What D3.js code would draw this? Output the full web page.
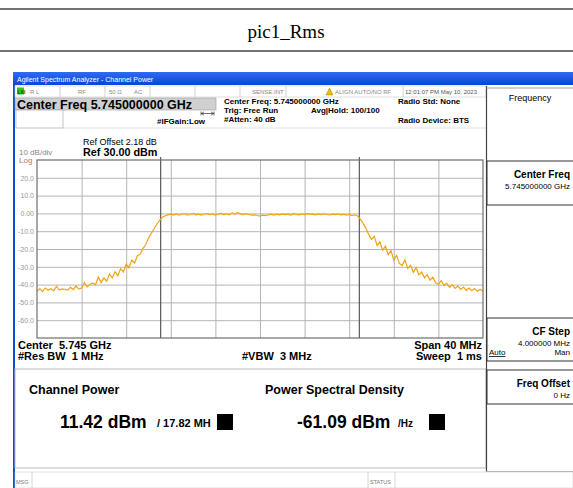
<!DOCTYPE html>
<html>
<head>
<meta charset="utf-8">
<script src="https://cdn.jsdelivr.net/npm/d3@7"></script>
<style>
  body { margin: 0; background: #fff; }
  svg { display: block; font-family: "Liberation Sans", Arial, sans-serif; }
  svg text { white-space: pre; }
</style>
</head>
<body>
<div id="chart"></div>
<script>
// ---- data ----
var spanMHz = [-20, 20];          // center 5.745 GHz, span 40 MHz
var refLevels = [30, -70];        // Ref 30.00 dBm, 10 dB/div
var yTickValues = [20, 10, 0, -10, -20, -30, -40, -50, -60];
var yTickLabels = ["20.0", "10.0", "0.00", "-10.0", "-20.0", "-30.0", "-40.0", "-50.0", "-60.0"];
var channelEdgesMHz = [-8.91, 8.91]; // 17.82 MHz integration bw

// trace, one point every 0.25 MHz from -20 MHz
var traceLevels = [
  -43.6, -42.4, -43.8, -41.9, -43.2, -42.3, -43.5, -40.9, -43.0, -42.4,
  -42.6, -43.1, -41.5, -42.8, -40.8, -42.5, -41.9, -38.9, -41.3, -39.8,
  -39.2, -40.1, -35.8, -38.9, -36.2, -38.1, -33.9, -36.3, -32.8, -35.1,
  -31.0, -32.9, -28.6, -30.5, -26.2, -27.9, -23.8, -22.9, -19.8, -17.6,
  -13.8, -11.2, -8.6, -6.1, -3.9, -2.2, -1.3, -0.8, -0.4, -0.9,
  -0.3, -1.0, -0.5, -0.1, -0.9, -0.6, 0.0, -0.8, -0.4, -1.0,
  -0.5, -0.1, -0.7, -0.3, -0.9, -0.4, 0.0, -0.7, -0.3, -0.8,
  0.3, -0.5, 0.5, -0.3, -0.7, -0.2, -0.6, -1.0, -0.8, -1.2,
  -1.5, -1.0, -1.3, -0.8, -0.6, -1.0, -0.5, -0.8, -0.3, -0.7,
  -0.4, -0.9, -0.2, -0.6, -0.8, -0.3, -0.7, -0.1, -0.5, -0.4,
  -0.8, -0.3, -0.7, -0.2, -0.6, -0.9, -0.4, -0.7, -0.3, -0.8,
  -0.5, -1.0, -0.6, -1.3, -0.8, -1.5, -3.2, -5.6, -8.4, -11.9,
  -14.6, -12.8, -18.0, -16.0, -20.8, -18.4, -23.2, -20.9, -26.3, -23.6,
  -28.1, -29.3, -26.1, -30.9, -29.2, -33.1, -30.5, -34.6, -33.0, -36.2,
  -34.4, -37.5, -35.8, -39.0, -39.8, -37.8, -40.5, -39.3, -41.6, -40.2,
  -42.1, -40.8, -42.7, -41.4, -43.2, -41.9, -43.4, -42.2, -43.7, -42.6, -43.8
];
var traceStepMHz = 0.25;

var svgWidth = 573;
var svgHeight = 488;

var plot = { left: 37, right: 483, top: 160, bottom: 338 };

var svg = d3.select("#chart")
  .append("svg")
  .attr("width", svgWidth)
  .attr("height", svgHeight);

// page title between two rules
svg.append("line").attr("x1", 0).attr("x2", svgWidth).attr("y1", 9).attr("y2", 9)
  .attr("stroke", "#444").attr("stroke-width", 1.5);
svg.append("line").attr("x1", 0).attr("x2", svgWidth).attr("y1", 51).attr("y2", 51)
  .attr("stroke", "#444").attr("stroke-width", 1.5);
svg.append("text")
  .attr("x", 286).attr("y", 38)
  .attr("text-anchor", "middle")
  .attr("font-family", "Liberation Serif, Times New Roman, serif")
  .attr("font-size", "19px")
  .text("pic1_Rms");

// ---- analyzer window ----
var grad = svg.append("defs").append("linearGradient")
  .attr("id", "titlebar").attr("x1", 0).attr("x2", 0).attr("y1", 0).attr("y2", 1);
grad.append("stop").attr("offset", "0%").attr("stop-color", "#2f6cf0");
grad.append("stop").attr("offset", "100%").attr("stop-color", "#0a44d8");

svg.append("rect").attr("x", 13).attr("y", 72).attr("width", svgWidth - 13).attr("height", svgHeight - 72)
  .attr("fill", "#1048d8");
svg.append("rect").attr("x", 13).attr("y", 72).attr("width", svgWidth - 13).attr("height", 13)
  .attr("fill", "url(#titlebar)");
svg.append("text").attr("x", 17).attr("y", 82)
  .attr("fill", "#fff").attr("font-size", "7px")
  .text("Agilent Spectrum Analyzer - Channel Power");

// white client area
svg.append("rect").attr("x", 15).attr("y", 85).attr("width", svgWidth - 15).attr("height", 387)
  .attr("fill", "#fff");

// status row
var statusRow = svg.append("g");
statusRow.append("rect").attr("x", 15).attr("y", 86).attr("width", 471).attr("height", 11)
  .attr("fill", "#fff").attr("stroke", "#c8c8c8").attr("stroke-width", 0.6);
[60, 105, 150, 195, 240, 286, 403].forEach(function(x) {
  statusRow.append("line").attr("x1", x).attr("x2", x).attr("y1", 86).attr("y2", 97)
    .attr("stroke", "#c8c8c8").attr("stroke-width", 0.8);
});
statusRow.append("rect").attr("x", 17).attr("y", 87.5).attr("width", 7).attr("height", 7)
  .attr("fill", "#22cc22");
statusRow.append("text").attr("x", 17.5).attr("y", 93.5).attr("font-size", "5px")
  .attr("font-weight", "bold").attr("fill", "#224400").text("LXI");
var statusLabels = [
  { x: 30, t: "R L" }, { x: 78, t: "RF" }, { x: 109, t: "50 \u03a9" },
  { x: 134, t: "AC" }, { x: 252, t: "SENSE:INT" }, { x: 335, t: "ALIGN AUTO/NO RF" },
  { x: 405, t: "12:01:07 PM May 10, 2023" }
];
statusRow.selectAll("text.st")
  .data(statusLabels)
  .enter()
  .append("text")
  .attr("class", "st")
  .attr("x", d => d.x).attr("y", 94)
  .attr("font-size", "6px")
  .attr("fill", d => d.t === "12:01:07 PM May 10, 2023" ? "#555" : "#888")
  .text(d => d.t);
statusRow.append("path").attr("d", "M326,95 L329.5,88 L333,95 Z").attr("fill", "#f0c000")
  .attr("stroke", "#806000").attr("stroke-width", 0.4);

// center freq banner
svg.append("rect").attr("x", 15).attr("y", 98).attr("width", 201).attr("height", 12)
  .attr("fill", "#d0d0d0").attr("stroke", "#999").attr("stroke-width", 0.6);
svg.append("text").attr("x", 17).attr("y", 108.8)
  .attr("font-size", "12.5px").attr("font-weight", "bold")
  .text("Center Freq 5.745000000 GHz");
svg.append("rect").attr("x", 16).attr("y", 110).attr("width", 47).attr("height", 18)
  .attr("fill", "#fff").attr("stroke", "#999").attr("stroke-width", 0.6);
svg.append("line").attr("x1", 63).attr("x2", 486).attr("y1", 128).attr("y2", 128)
  .attr("stroke", "#ccc").attr("stroke-width", 0.6);
svg.append("path").attr("d", "M201,113.5 L214,113.5 M201,111.5 L201,115.5 M214,111.5 L214,115.5 M204,111.8 L201.5,113.5 L204,115.2 M211,111.8 L213.5,113.5 L211,115.2")
  .attr("stroke", "#333").attr("stroke-width", 0.7).attr("fill", "none");

var headerTexts = [
  { x: 157, y: 124, t: "#IFGain:Low" },
  { x: 224, y: 104, t: "Center Freq: 5.745000000 GHz" },
  { x: 224, y: 113, t: "Trig: Free Run" },
  { x: 311, y: 113, t: "Avg|Hold: 100/100" },
  { x: 224, y: 122, t: "#Atten: 40 dB" },
  { x: 398, y: 104, t: "Radio Std: None" },
  { x: 398, y: 123, t: "Radio Device: BTS" }
];
svg.selectAll("text.hdr")
  .data(headerTexts)
  .enter()
  .append("text")
  .attr("class", "hdr")
  .attr("x", d => d.x).attr("y", d => d.y)
  .attr("font-size", "8px").attr("font-weight", "bold")
  .text(d => d.t);

// ref info
svg.append("text").attr("x", 83).attr("y", 145).attr("font-size", "9px").text("Ref Offset 2.18 dB");
svg.append("text").attr("x", 83).attr("y", 156).attr("font-size", "10.8px").attr("font-weight", "bold").text("Ref 30.00 dBm");
svg.append("text").attr("x", 19).attr("y", 155).attr("font-size", "8px").attr("fill", "#888").text("10 dB/div");
svg.append("text").attr("x", 19).attr("y", 163).attr("font-size", "8px").attr("fill", "#888").text("Log");

// ---- the trace plot ----
var xScale = d3.scaleLinear().domain(spanMHz).range([plot.left, plot.right]);
var yScale = d3.scaleLinear().domain(refLevels).range([plot.top, plot.bottom]);

var chartGroup = svg.append("g");

chartGroup.append("rect")
  .attr("x", plot.left).attr("y", plot.top)
  .attr("width", plot.right - plot.left).attr("height", plot.bottom - plot.top)
  .attr("fill", "#fff");

// vertical grid
var xGrid = d3.axisBottom(xScale)
  .tickValues(d3.range(-16, 20, 4))
  .tickSize(-(plot.bottom - plot.top))
  .tickFormat("");
chartGroup.append("g")
  .attr("transform", `translate(0, ${plot.bottom})`)
  .call(xGrid)
  .call(g => g.select(".domain").remove())
  .call(g => g.selectAll("line").attr("stroke", "#b4b4b4").attr("stroke-width", 1));

// horizontal grid + dB labels
var leftAxis = d3.axisLeft(yScale)
  .tickValues(yTickValues)
  .tickSize(-(plot.right - plot.left))
  .tickPadding(3)
  .tickFormat((d, i) => yTickLabels[i]);
chartGroup.append("g")
  .attr("transform", `translate(${plot.left}, 0)`)
  .call(leftAxis)
  .call(g => g.select(".domain").remove())
  .call(g => g.selectAll("line").attr("stroke", "#b4b4b4").attr("stroke-width", 1))
  .call(g => g.selectAll("text")
    .attr("fill", "#999")
    .attr("font-size", "7px")
    .attr("font-family", "Liberation Sans, Arial, sans-serif"));

// channel integration markers
chartGroup.selectAll("line.chan")
  .data(channelEdgesMHz)
  .enter()
  .append("line")
  .attr("class", "chan")
  .attr("x1", d => xScale(d)).attr("x2", d => xScale(d))
  .attr("y1", plot.top - 3).attr("y2", plot.bottom)
  .attr("stroke", "#5a5a5a").attr("stroke-width", 1.2);

// trace
var line = d3.line()
  .x((d, i) => xScale(spanMHz[0] + i * traceStepMHz))
  .y(d => yScale(d));
chartGroup.append("path")
  .datum(traceLevels)
  .attr("d", line)
  .attr("fill", "none")
  .attr("stroke", "#f0a414")
  .attr("stroke-width", 1.2);

// plot frame
chartGroup.append("rect")
  .attr("x", plot.left).attr("y", plot.top)
  .attr("width", plot.right - plot.left).attr("height", plot.bottom - plot.top)
  .attr("fill", "none").attr("stroke", "#6e6e6e").attr("stroke-width", 1.2);

// footer of plot
var footFont = "11px";
svg.append("text").attr("x", 18).attr("y", 349).attr("font-size", footFont).attr("font-weight", "bold").text("Center  5.745 GHz");
svg.append("text").attr("x", 18).attr("y", 360).attr("font-size", footFont).attr("font-weight", "bold").text("#Res BW  1 MHz");
svg.append("text").attr("x", 242).attr("y", 360).attr("font-size", footFont).attr("font-weight", "bold").text("#VBW  3 MHz");
svg.append("text").attr("x", 482).attr("y", 349).attr("text-anchor", "end").attr("font-size", footFont).attr("font-weight", "bold").text("Span 40 MHz");
svg.append("text").attr("x", 482).attr("y", 360).attr("text-anchor", "end").attr("font-size", footFont).attr("font-weight", "bold").text("Sweep  1 ms");

// ---- channel power result box ----
svg.append("rect").attr("x", 15).attr("y", 369).attr("width", 471).attr("height", 99)
  .attr("fill", "#fff").attr("stroke", "#bbb").attr("stroke-width", 1);
svg.append("text").attr("x", 29).attr("y", 394).attr("font-size", "12.5px").attr("font-weight", "bold").text("Channel Power");
svg.append("text").attr("x", 265).attr("y", 394).attr("font-size", "12.5px").attr("font-weight", "bold").text("Power Spectral Density");
svg.append("text").attr("x", 60).attr("y", 428).attr("font-size", "17.5px").attr("font-weight", "bold").text("11.42 dBm");
svg.append("text").attr("x", 157).attr("y", 427).attr("font-size", "11px").attr("font-weight", "bold").text("/ 17.82 MH");
svg.append("text").attr("x", 297).attr("y", 428).attr("font-size", "17.5px").attr("font-weight", "bold").text("-61.09 dBm");
svg.append("text").attr("x", 398).attr("y", 427).attr("font-size", "10px").attr("font-weight", "bold").text("/Hz");
svg.append("rect").attr("x", 217).attr("y", 414).attr("width", 16).attr("height", 16).attr("fill", "#000");
svg.append("rect").attr("x", 429).attr("y", 414).attr("width", 16).attr("height", 16).attr("fill", "#000");

// ---- right soft-key panel ----
var panel = svg.append("g");
panel.append("rect").attr("x", 486).attr("y", 85).attr("width", 90).attr("height", 387)
  .attr("fill", "#fff");
panel.append("line").attr("x1", 486.5).attr("x2", 486.5).attr("y1", 86).attr("y2", 472)
  .attr("stroke", "#444").attr("stroke-width", 1.2);
panel.append("line").attr("x1", 486).attr("x2", 573).attr("y1", 88).attr("y2", 88)
  .attr("stroke", "#888").attr("stroke-width", 0.8);
panel.append("text").attr("x", 530).attr("y", 101).attr("text-anchor", "middle")
  .attr("font-size", "9px").text("Frequency");

var softKeys = [
  { top: 161, bottom: 205, title: "Center Freq", value: "5.745000000 GHz" },
  { top: 318, bottom: 361, title: "CF Step", value: "4.000000 MHz" },
  { top: 370, bottom: 404, title: "Freq Offset", value: "0 Hz" }
];
softKeys.forEach(function(k) {
  panel.append("rect").attr("x", 487).attr("y", k.top).attr("width", 90).attr("height", k.bottom - k.top)
    .attr("fill", "#fff").attr("stroke", "#333").attr("stroke-width", 1);
  panel.append("text").attr("x", 570).attr("y", k.top + 17).attr("text-anchor", "end")
    .attr("font-size", "10px").attr("font-weight", "bold").text(k.title);
  panel.append("text").attr("x", 570).attr("y", k.top + 28).attr("text-anchor", "end")
    .attr("font-size", "8px").text(k.value);
});
panel.append("text").attr("x", 489).attr("y", 355).attr("font-size", "8px")
  .attr("text-decoration", "underline").text("Auto");
panel.append("text").attr("x", 570).attr("y", 355).attr("text-anchor", "end")
  .attr("font-size", "8px").text("Man");
panel.append("line").attr("x1", 486).attr("x2", 573).attr("y1", 471.5).attr("y2", 471.5)
  .attr("stroke", "#999").attr("stroke-width", 0.8);

// ---- bottom message bar ----
svg.append("rect").attr("x", 15).attr("y", 472).attr("width", svgWidth - 15).attr("height", 16)
  .attr("fill", "#fff").attr("stroke", "#ccc").attr("stroke-width", 0.6);
[32, 368, 395].forEach(function(x) {
  svg.append("line").attr("x1", x).attr("x2", x).attr("y1", 472).attr("y2", 488)
    .attr("stroke", "#ccc").attr("stroke-width", 0.8);
});
svg.append("text").attr("x", 16).attr("y", 484).attr("font-size", "5.5px").attr("fill", "#777").text("MSG");
svg.append("text").attr("x", 370).attr("y", 484).attr("font-size", "5.5px").attr("fill", "#777").text("STATUS");
</script>
</body>
</html>
